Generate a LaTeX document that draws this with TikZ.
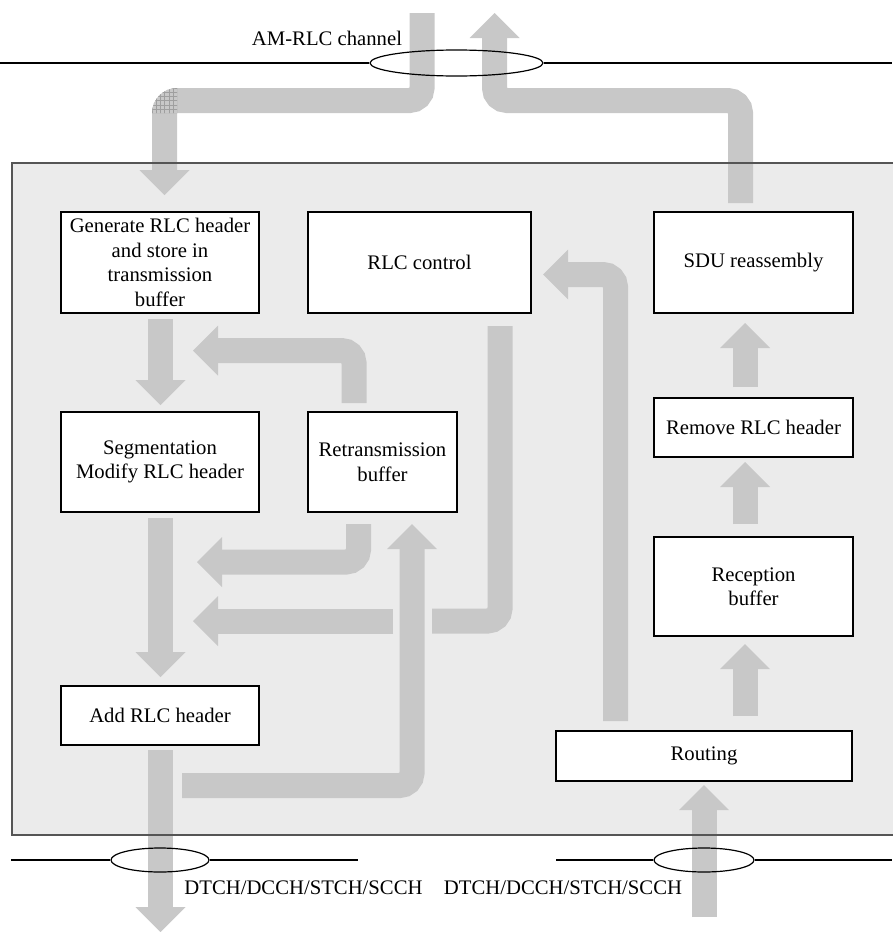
\documentclass[tikz,border=0pt]{standalone}
\usepackage{fontspec}
\setmainfont{Liberation Serif}
\usetikzlibrary{shapes.geometric}
\definecolor{pipecol}{HTML}{C8C8C8}
\definecolor{bgcol}{HTML}{EBEBEB}
\definecolor{framecol}{HTML}{555555}
\tikzset{
  pipe/.style={draw=pipecol, line width=25pt, rounded corners=12.5pt},
  box/.style={draw=black, fill=white, line width=1.1pt, inner sep=0pt, align=center,
              font=\fontsize{20.7}{24.5}\selectfont},
  fathead/.pic={\fill[pipecol] (0,0) -- (-25,25) -- (-25,-25) -- cycle;},
  chan/.style={draw=black, line width=1.2pt},
  ring/.style={ellipse, draw=black, line width=1.2pt, inner sep=0pt},
  lbl/.style={font=\fontsize{20.7}{24.5}\selectfont, inner sep=0pt, anchor=base},
}
\begin{document}
\begin{tikzpicture}[x=1pt,y=-1pt]
\useasboundingbox (0,0) rectangle (892,932);
% panel
\fill[bgcol] (12,163) rectangle (905,835);

% boxes
\node[box, minimum width=198pt, minimum height=101pt] (gen) at (160,262.5)
  {Generate RLC header\\and store in\\transmission\\buffer};
\node[box, minimum width=223pt, minimum height=101pt] (ctrl) at (419.5,262.5) {RLC control};
\node[box, minimum width=199pt, minimum height=101pt] (sdu) at (753.5,262.5) {SDU reassembly};
\node[box, minimum width=198pt, minimum height=100pt] (seg) at (160,462)
  {Segmentation\\Modify RLC header};
\node[box, minimum width=149pt, minimum height=100pt] (ret) at (382.5,462)
  {Retransmission\\buffer};
\node[box, minimum width=199pt, minimum height=59pt] (rem) at (753.5,427.5) {Remove RLC header};
\node[box, minimum width=199pt, minimum height=99pt] (rec) at (753.5,586.5) {Reception\\buffer};
\node[box, minimum width=198pt, minimum height=59pt] (add) at (160,715.5) {Add RLC header};
\node[box, minimum width=296pt, minimum height=50pt] (rout) at (704,756) {Routing};

% pipe end points
\coordinate (p1a) at (422,13);   \coordinate (p1b) at (422,100.5);
\coordinate (p1c) at (164.5,100.5); \coordinate (p1d) at (164.5,172); \coordinate (p1t) at (164.5,195);
\coordinate (p2a) at (740.5,203); \coordinate (p2b) at (740.5,100.5);
\coordinate (p2c) at (494.5,100.5); \coordinate (p2d) at (494.5,36); \coordinate (p2t) at (494.5,13);
\coordinate (p3a) at (160.5,319); \coordinate (p3b) at (160.5,382); \coordinate (p3t) at (160.5,405);
\coordinate (p4a) at (354,403); \coordinate (p4b) at (354,350.5); \coordinate (p4c) at (216,350.5); \coordinate (p4t) at (193,350.5);
\coordinate (p5a) at (160.5,518); \coordinate (p5b) at (160.5,654); \coordinate (p5t) at (160.5,677);
\coordinate (p6a) at (358.5,524); \coordinate (p6b) at (358.5,562); \coordinate (p6c) at (220,562); \coordinate (p6t) at (197,562);
\coordinate (p7a) at (182,785.5); \coordinate (p7b) at (412,785.5); \coordinate (p7c) at (412,547); \coordinate (p7t) at (412,524);
\coordinate (p8a) at (500,326); \coordinate (p8b) at (500,621); \coordinate (p8c) at (432,621);
\coordinate (p8d) at (393,621); \coordinate (p8e) at (216,621); \coordinate (p8t) at (193,621);
\coordinate (p9a) at (160.5,750); \coordinate (p9b) at (160.5,909); \coordinate (p9t) at (160.5,932);
\coordinate (p10a) at (704,917); \coordinate (p10b) at (704,808); \coordinate (p10t) at (704,785);
\coordinate (p11a) at (615.5,721); \coordinate (p11b) at (615.5,274.5); \coordinate (p11c) at (566,274.5); \coordinate (p11t) at (543,274.5);
\coordinate (p12a) at (745,716); \coordinate (p12b) at (745,667); \coordinate (p12t) at (745,644);
\coordinate (p13a) at (745,524); \coordinate (p13b) at (745,485); \coordinate (p13t) at (745,462);
\coordinate (p14a) at (745,387); \coordinate (p14b) at (745,346); \coordinate (p14t) at (745,323);

% pipes
\draw[pipe] (p1a) -- (p1b) -- (p1c) -- (p1d);  \pic[rotate=-90] at (p1t) {fathead};
\draw[pipe] (p2a) -- (p2b) -- (p2c) -- (p2d);  \pic[rotate=90] at (p2t) {fathead};
\draw[pipe] (p3a) -- (p3b);                    \pic[rotate=-90] at (p3t) {fathead};
\draw[pipe] (p4a) -- (p4b) -- (p4c);           \pic[rotate=180] at (p4t) {fathead};
\draw[pipe] (p5a) -- (p5b);                    \pic[rotate=-90] at (p5t) {fathead};
\draw[pipe] (p6a) -- (p6b) -- (p6c);           \pic[rotate=180] at (p6t) {fathead};
\draw[pipe] (p7a) -- (p7b) -- (p7c);           \pic[rotate=90] at (p7t) {fathead};
\draw[pipe] (p8a) -- (p8b) -- (p8c);
\draw[pipe] (p8d) -- (p8e);                    \pic[rotate=180] at (p8t) {fathead};
\draw[pipe] (p9a) -- (p9b);                    \pic[rotate=-90] at (p9t) {fathead};
\draw[pipe] (p10a) -- (p10b);                  \pic[rotate=90] at (p10t) {fathead};
\draw[pipe] (p11a) -- (p11b) -- (p11c);        \pic[rotate=180] at (p11t) {fathead};
\draw[pipe] (p12a) -- (p12b);                  \pic[rotate=90] at (p12t) {fathead};
\draw[pipe] (p13a) -- (p13b);                  \pic[rotate=90] at (p13t) {fathead};
\draw[pipe] (p14a) -- (p14b);                  \pic[rotate=90] at (p14t) {fathead};

% hatched corner
\begin{scope}
  \clip (177,113) -- (152,113) arc[start angle=180, end angle=270, radius=25] -- cycle;
  \foreach \k in {0,...,6} {
    \draw[gray!75, line width=0.6pt] (152+4.2*\k,86) -- (152+4.2*\k,114);
    \draw[gray!75, line width=0.6pt] (150,88+4.2*\k) -- (178,88+4.2*\k);
  }
\end{scope}

% panel frame
\draw[framecol, line width=1.3pt] (905,163) -- (12,163) -- (12,835) -- (905,835);

% channels
\node[ring, minimum width=173pt, minimum height=26pt] (amch) at (456.5,63) {};
\coordinate (amL) at (0,63); \coordinate (amR) at (892,63);
\draw[chan] (amL) -- (amch.west);
\draw[chan] (amch.east) -- (amR);
\node[lbl] (amlbl) at (327,45) {AM-RLC channel};

\node[ring, minimum width=98pt, minimum height=24pt] (dlch) at (160,860) {};
\coordinate (dlL) at (11,860); \coordinate (dlR) at (358,860);
\draw[chan] (dlL) -- (dlch.west);
\draw[chan] (dlch.east) -- (dlR);
\node[lbl] (dllbl) at (303.5,894) {DTCH/DCCH/STCH/SCCH};

\node[ring, minimum width=100pt, minimum height=24pt] (ulch) at (704,860) {};
\coordinate (ulL) at (556,860); \coordinate (ulR) at (892,860);
\draw[chan] (ulL) -- (ulch.west);
\draw[chan] (ulch.east) -- (ulR);
\node[lbl] (ullbl) at (563,894) {DTCH/DCCH/STCH/SCCH};
\end{tikzpicture}
\end{document}
